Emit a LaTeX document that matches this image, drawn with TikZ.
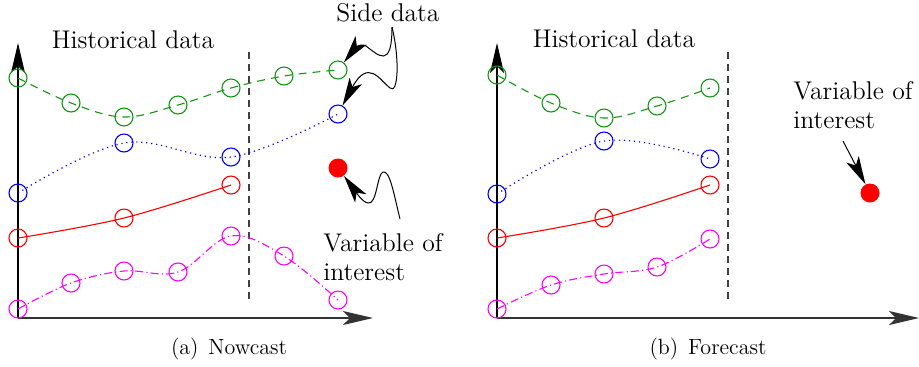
\documentclass[tikz,border=0pt]{standalone}
\usetikzlibrary{arrows.meta}
\definecolor{cgreen}{RGB}{20,150,20}
\definecolor{cblue}{RGB}{0,0,255}
\definecolor{cred}{RGB}{255,0,0}
\definecolor{cmag}{RGB}{255,0,255}
\tikzset{
  dp/.style={circle, draw, inner sep=0pt, minimum size=9pt, line width=0.55pt},
  gp/.style={dp, draw=cgreen},
  bp/.style={dp, draw=cblue},
  rp/.style={dp, draw=cred},
  mp/.style={dp, draw=cmag},
  target/.style={circle, fill=cred, inner sep=0pt, minimum size=9.5pt},
  gline/.style={cgreen, line width=0.55pt, dash pattern=on 4pt off 3pt},
  bline/.style={cblue, line width=0.6pt, dash pattern=on 0.6pt off 1.9pt},
  rline/.style={cred, line width=0.55pt},
  mline/.style={cmag, line width=0.55pt, dash pattern=on 4pt off 1.6pt on 0.6pt off 1.6pt},
  arrowtip/.style={-{Stealth[length=15pt,width=7pt,inset=3.5pt]}},
  smalltip/.style={-{Stealth[length=14pt,width=7pt,inset=3.5pt]}},
  yaxis/.style={arrowtip, line width=0.6pt, black},
  xaxis/.style={arrowtip, line width=0.6pt, black!80},
  sepline/.style={black!75, line width=0.6pt, dash pattern=on 3.5pt off 2.5pt},
  pointer/.style={smalltip, line width=0.5pt},
  lbl/.style={font=\fontsize{12.8}{15}\selectfont, inner sep=0pt},
  captext/.style={font=\fontsize{11}{13}\selectfont, inner sep=0pt},
}
\begin{document}
\begin{tikzpicture}[x=0.5pt,y=-0.5pt]
\useasboundingbox (0,0) rectangle (919,366);

% ---------------- panel (a) ----------------
\coordinate (oa) at (18,318);
\coordinate (ya) at (18,43);
\coordinate (xa) at (373,318);
\draw[yaxis] (oa) -- (ya);
\draw[xaxis] (oa) -- (xa);
\coordinate (sa1) at (249,52);
\coordinate (sa2) at (249,302);
\draw[sepline] (sa1) -- (sa2);

\node[gp] (ga1) at (18,78) {};
\node[gp] (ga2) at (71,103) {};
\node[gp] (ga3) at (124,117) {};
\node[gp] (ga4) at (178,105) {};
\node[gp] (ga5) at (231,88) {};
\node[gp] (ga6) at (284,76) {};
\node[gp] (ga7) at (338,70) {};
\draw[gline] plot[smooth, tension=0.6] coordinates {(ga1.center) (ga2.center) (ga3.center) (ga4.center) (ga5.center) (ga6.center) (ga7.center)};

\node[bp] (ba1) at (18,193) {};
\node[bp] (ba2) at (124,143) {};
\node[bp] (ba3) at (231,157) {};
\node[bp] (ba4) at (338,114) {};
\draw[bline] plot[smooth, tension=0.6] coordinates {(ba1.center) (ba2.center) (ba3.center) (ba4.center)};

\node[rp] (ra1) at (18,238) {};
\node[rp] (ra2) at (124,218) {};
\node[rp] (ra3) at (231,185) {};
\draw[rline] plot[smooth, tension=0.6] coordinates {(ra1.center) (ra2.center) (ra3.center)};

\node[mp] (ma1) at (18,309) {};
\node[mp] (ma2) at (71,283) {};
\node[mp] (ma3) at (124,271) {};
\node[mp] (ma4) at (178,272) {};
\node[mp] (ma5) at (231,236) {};
\node[mp] (ma6) at (284,256) {};
\node[mp] (ma7) at (338,300) {};
\draw[mline] plot[smooth, tension=0.6] coordinates {(ma1.center) (ma2.center) (ma3.center) (ma4.center) (ma5.center) (ma6.center) (ma7.center)};

\node[target] (ta) at (338,168) {};

\node[lbl] (ha) at (133,40) {Historical data};
\node[lbl] (sd) at (388,13) {Side data};
\coordinate (sds) at (392,27);
\draw[pointer] (sds) .. controls (392,70) and (378,55) .. (366,46) .. controls (358,42) and (352,52) .. (ga7);
\draw[pointer] (sds) .. controls (400,60) and (398,95) .. (390,88) .. controls (380,80) and (368,58) .. (ba4);

\node[lbl, anchor=west, align=left] (va) at (323,257) {Variable of\\[-0.5pt]interest};
\coordinate (vas) at (400,219);
\coordinate (vpk) at (383,172);
\coordinate (vtr) at (368,203);
\draw[pointer] (vas) .. controls (394,195) and (390,170) .. (vpk) .. controls (377,174) and (377,205) .. (vtr) .. controls (362,202) and (356,192) .. (ta);

\node[captext] (capa) at (229,349) {(a)\hspace{0.45em}Nowcast};

% ---------------- panel (b) ----------------
\coordinate (ob) at (497,318);
\coordinate (yb) at (497,43);
\coordinate (xb) at (919,318);
\draw[yaxis] (ob) -- (yb);
\draw[xaxis] (ob) -- (xb);
\coordinate (sb1) at (728,52);
\coordinate (sb2) at (728,302);
\draw[sepline] (sb1) -- (sb2);

\node[gp] (gb1) at (497,75) {};
\node[gp] (gb2) at (551,103) {};
\node[gp] (gb3) at (604,118) {};
\node[gp] (gb4) at (657,106) {};
\node[gp] (gb5) at (710,88) {};
\draw[gline] plot[smooth, tension=0.6] coordinates {(gb1.center) (gb2.center) (gb3.center) (gb4.center) (gb5.center)};

\node[bp] (bb1) at (497,194) {};
\node[bp] (bb2) at (604,141) {};
\node[bp] (bb3) at (710,159) {};
\draw[bline] plot[smooth, tension=0.6] coordinates {(bb1.center) (bb2.center) (bb3.center)};

\node[rp] (rb1) at (497,238) {};
\node[rp] (rb2) at (604,218) {};
\node[rp] (rb3) at (710,185) {};
\draw[rline] plot[smooth, tension=0.6] coordinates {(rb1.center) (rb2.center) (rb3.center)};

\node[mp] (mb1) at (497,309) {};
\node[mp] (mb2) at (551,285) {};
\node[mp] (mb3) at (604,274) {};
\node[mp] (mb4) at (657,267) {};
\node[mp] (mb5) at (710,239) {};
\draw[mline] plot[smooth, tension=0.6] coordinates {(mb1.center) (mb2.center) (mb3.center) (mb4.center) (mb5.center)};

\node[target] (tb) at (870,193) {};

\node[lbl] (hb) at (614,39) {Historical data};
\node[lbl, anchor=west, align=left] (vb) at (793,105) {Variable of\\[-0.5pt]interest};
\coordinate (vbs) at (843,141);
\draw[pointer] (vbs) -- (tb);

\node[captext] (capb) at (708,349) {(b)\hspace{0.45em}Forecast};
\end{tikzpicture}
\end{document}
